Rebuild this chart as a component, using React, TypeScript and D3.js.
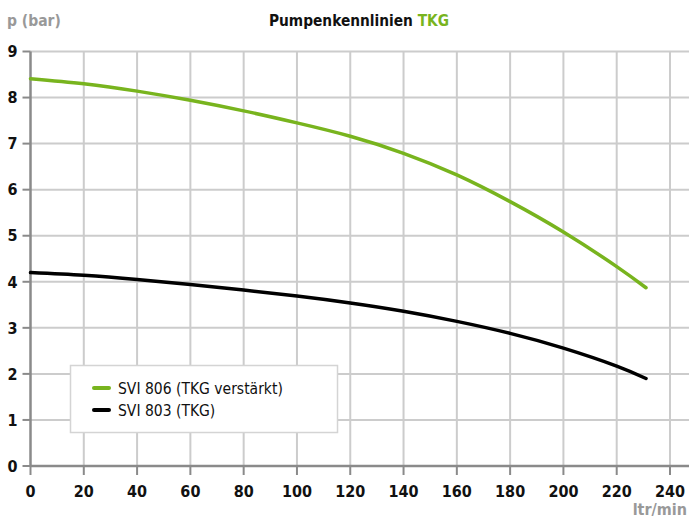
import React from "react";
import * as d3 from "d3";

const flowX = [0, 20, 40, 60, 80, 100, 120, 140, 160, 180, 200, 220, 231];
const svi806 = [8.41, 8.3, 8.14, 7.94, 7.71, 7.45, 7.16, 6.79, 6.32, 5.74, 5.08, 4.33, 3.87];
const svi803 = [4.2, 4.14, 4.05, 3.94, 3.82, 3.69, 3.54, 3.36, 3.14, 2.88, 2.56, 2.17, 1.9];
const xTicks = [0, 20, 40, 60, 80, 100, 120, 140, 160, 180, 200, 220, 240];
const yTicks = [0, 1, 2, 3, 4, 5, 6, 7, 8, 9];
const seriesNames = ["SVI 806 (TKG verstärkt)", "SVI 803 (TKG)"];
const colors = ["#78b41e", "#000000"];

const W = 689, H = 519;
const FONT = "'DejaVu Sans Condensed', 'DejaVu Sans', sans-serif";

export default function App() {
  const x = d3.scaleLinear().domain([0, 240]).range([30.5, 670]);
  const y = d3.scaleLinear().domain([0, 9]).range([466, 51.5]);
  const line = d3
    .line<number>()
    .x((_, i) => x(flowX[i]))
    .y((d) => y(d))
    .curve(d3.curveNatural);
  const series = [svi806, svi803];

  return (
    <svg width={W} height={H} style={{ position: "absolute", left: 0, top: 0, background: "#fff" }} fontFamily={FONT}>
      {/* grid */}
      {yTicks.slice(1).map((t) => (
        <line key={"gy" + t} x1={x(0)} x2={W} y1={y(t)} y2={y(t)} stroke="#cccccc" strokeWidth={2} />
      ))}
      {xTicks.slice(1).map((t) => (
        <line key={"gx" + t} x1={x(t)} x2={x(t)} y1={y(9)} y2={y(0)} stroke="#cccccc" strokeWidth={2} />
      ))}
      {/* axes */}
      <line x1={x(0)} x2={x(0)} y1={y(9)} y2={y(0)} stroke="#8a8a8a" strokeWidth={2.5} />
      <line x1={x(0)} x2={W} y1={y(0)} y2={y(0)} stroke="#8a8a8a" strokeWidth={2.5} />
      {yTicks.map((t) => (
        <g key={"ty" + t}>
          <line x1={x(0) - 8} x2={x(0)} y1={y(t)} y2={y(t)} stroke="#8a8a8a" strokeWidth={2} />
          <text x={x(0) - 13} y={y(t)} dy="0.36em" textAnchor="end" fontSize={16} fontWeight="bold" fill="#111">
            {t}
          </text>
        </g>
      ))}
      {xTicks.map((t) => (
        <g key={"tx" + t}>
          <line x1={x(t)} x2={x(t)} y1={y(0)} y2={y(0) + 9} stroke="#8a8a8a" strokeWidth={2} />
          <text x={x(t)} y={497} textAnchor="middle" fontSize={16} fontWeight="bold" fill="#111">
            {t}
          </text>
        </g>
      ))}
      {/* curves */}
      {series.map((s, i) => (
        <path key={"s" + i} d={line(s) || ""} fill="none" stroke={colors[i]} strokeWidth={3.5} strokeLinecap="round" />
      ))}
      {/* legend */}
      <rect x={70.5} y={365.5} width={267} height={67} fill="#fff" stroke="#d4d4d4" strokeWidth={1.5} />
      {seriesNames.map((n, i) => (
        <g key={"l" + i}>
          <line x1={94} x2={109} y1={388 + i * 22} y2={388 + i * 22} stroke={colors[i]} strokeWidth={4} strokeLinecap="round" />
          <text x={118} y={388 + i * 22} dy="0.36em" fontSize={15.5} fill="#111">
            {n}
          </text>
        </g>
      ))}
      {/* titles */}
      <text x={7} y={26} fontSize={15.5} fontWeight="bold" fill="#999">
        p (bar)
      </text>
      <text x={359} y={26} textAnchor="middle" fontSize={15.3} fontWeight="bold" fill="#111">
        Pumpenkennlinien <tspan fill="#78b41e">TKG</tspan>
      </text>
      <text x={687} y={515} textAnchor="end" fontSize={16} fontWeight="bold" fill="#999">
        ltr/min
      </text>
    </svg>
  );
}
